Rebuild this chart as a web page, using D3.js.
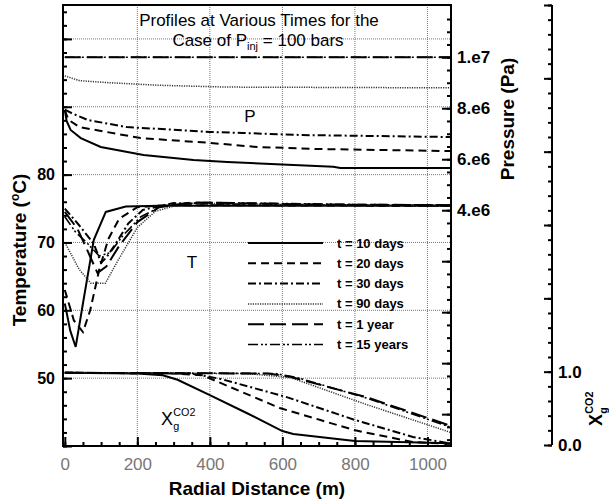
<!DOCTYPE html>
<html>
<head>
<meta charset="utf-8">
<script src="https://cdn.jsdelivr.net/npm/d3@7"></script>
<style>
  body { margin: 0; background: #fff; }
  svg text { font-family: "Liberation Sans", Arial, sans-serif; }
</style>
</head>
<body>
<div id="vis"></div>
<script>
const FRAME_WIDTH = 609;
const FRAME_HEIGHT = 504;
const PLOT = {left: 63, right: 451, top: 5, bottom: 446};

// series names (legend order)
const times = ["t = 10 days", "t = 20 days", "t = 30 days", "t = 90 days", "t = 1 year", "t = 15 years"];

// pressure profiles [distance m, Pa]
const pres10d = [[0, 7.93e6], [5, 7.5e6], [16, 7.15e6], [44, 6.83e6], [99, 6.48e6], [217, 6.17e6], [355, 5.97e6], [448, 5.89e6], [740, 5.70e6], [760, 5.66e6], [1065, 5.66e6]];
const pres20d = [[0, 7.93e6], [10, 7.55e6], [40, 7.26e6], [209, 6.83e6], [400, 6.64e6], [530, 6.48e6], [700, 6.40e6], [1065, 6.32e6]];
const pres30d = [[0, 7.95e6], [20, 7.8e6], [63, 7.54e6], [171, 7.26e6], [310, 7.15e6], [400, 7.07e6], [490, 7.03e6], [650, 6.95e6], [1065, 6.87e6]];
const pres90d = [[0, 9.27e6], [41, 9.08e6], [124, 9.0e6], [261, 8.9e6], [446, 8.83e6], [1065, 8.8e6]];
const pres1y = [[0, 1.0e7], [1065, 1.0e7]];
const pres15y = [[0, 1.0e7], [1065, 1.0e7]];

// temperature profiles [distance m, degC]
const temp10d = [[0, 61], [15, 57], [30, 54.6], [50, 61], [80, 70.4], [113, 74.5], [168, 75.3], [260, 75.4], [1065, 75.4]];
const temp20d = [[0, 63], [25, 58.5], [50, 56.8], [70, 60], [95, 66], [120, 70.5], [150, 73.5], [200, 75.2], [280, 75.5], [1065, 75.4]];
const temp30d = [[0, 75], [40, 72.5], [80, 69.8], [100, 67], [115, 67.8], [140, 69.8], [175, 72.8], [215, 74.8], [300, 75.8], [500, 75.6], [1065, 75.4]];
const temp90d = [[0, 70], [40, 66], [72, 64], [112, 64], [145, 67.2], [200, 72.2], [250, 74.6], [330, 75.8], [600, 75.6], [1065, 75.5]];
const temp1y = [[0, 74.5], [35, 72], [65, 68.5], [90, 65.5], [115, 66.5], [150, 69.5], [200, 73], [260, 75.2], [350, 75.9], [700, 75.6], [1065, 75.5]];
const temp15y = [[0, 73.8], [30, 71.5], [60, 70], [95, 68], [125, 68.5], [160, 71], [210, 73.8], [270, 75.4], [380, 75.9], [800, 75.6], [1065, 75.5]];

// CO2 mass fraction in gas [distance m, -]
const xg10d = [[0, 0.985], [200, 0.975], [270, 0.95], [311, 0.89], [400, 0.68], [500, 0.44], [600, 0.19], [630, 0.15], [800, 0.055], [1065, 0.025]];
const xg20d = [[0, 0.985], [300, 0.975], [380, 0.95], [437, 0.83], [595, 0.50], [705, 0.34], [801, 0.20], [960, 0.04], [1065, 0.015]];
const xg30d = [[0, 0.985], [350, 0.975], [431, 0.90], [614, 0.65], [801, 0.34], [960, 0.11], [1065, 0.02]];
const xg90d = [[0, 0.985], [500, 0.975], [622, 0.92], [833, 0.55], [1065, 0.17]];
const xg1y = [[0, 0.985], [560, 0.975], [622, 0.93], [833, 0.65], [1065, 0.26]];
const xg15y = [[0, 0.985], [580, 0.975], [640, 0.92], [833, 0.64], [1065, 0.24]];

// tick labels
const xTickLabels = [0, 200, 400, 600, 800, 1000];
const tempTickLabels = [50, 60, 70, 80];
const presTickLabels = [4e6, 6e6, 8e6, 1e7];
const xgTickLabels = [0, 1];

const pressure = [pres10d, pres20d, pres30d, pres90d, pres1y, pres15y];
const temperature = [temp10d, temp20d, temp30d, temp90d, temp1y, temp15y];
const fraction = [xg10d, xg20d, xg30d, xg90d, xg1y, xg15y];

// line styles per series
const STYLES = [
  {dash: null, width: 2, color: "#000"},
  {dash: "8,5", width: 2, color: "#000"},
  {dash: "8,3,2,3", width: 2, color: "#000"},
  {dash: "1.2,1.2", width: 1.5, color: "#333"},
  {dash: "16,6", width: 2, color: "#000"},
  {dash: "10,3,2,2,2,3", width: 1.6, color: "#000"}
];

const svg = d3.select("#vis")
  .append("svg")
    .attr("width", FRAME_WIDTH)
    .attr("height", FRAME_HEIGHT);

const x = d3.scaleLinear().domain([-5, 1065]).range([PLOT.left, PLOT.right]);
const yT = d3.scaleLinear().domain([40, 105]).range([PLOT.bottom, PLOT.top]);
const yP = d3.scaleLinear().domain([-5.25e6, 1.205e7]).range([PLOT.bottom, PLOT.top]);
const yX = d3.scaleLinear().domain([0, 6]).range([445, PLOT.top]);

// grid
const grid = svg.append("g")
  .attr("stroke", "#777")
  .attr("stroke-width", 1)
  .attr("stroke-dasharray", "1,1");
grid.selectAll(".vg")
  .data(xTickLabels.filter(d => d > 0))
  .enter().append("line")
    .attr("x1", d => x(d)).attr("x2", d => x(d))
    .attr("y1", PLOT.top).attr("y2", PLOT.bottom);
grid.selectAll(".hg")
  .data(d3.range(50, 101, 10))
  .enter().append("line")
    .attr("x1", PLOT.left).attr("x2", PLOT.right)
    .attr("y1", d => yT(d)).attr("y2", d => yT(d));

// curves
function drawSet(sets, yScale) {
  const line = d3.line().x(d => x(d[0])).y(d => yScale(d[1]));
  sets.forEach(function (data, i) {
    svg.append("path")
      .datum(data)
      .attr("d", line)
      .attr("fill", "none")
      .attr("stroke", STYLES[i].color)
      .attr("stroke-width", STYLES[i].width)
      .attr("stroke-dasharray", STYLES[i].dash);
  });
}
drawSet(pressure, yP);
drawSet(temperature, yT);
drawSet(fraction, yX);

// axes with inward ticks
function axisStyle(g) {
  g.select(".domain").remove();
  g.selectAll(".tick line").attr("stroke", "#000").attr("stroke-width", 2);
}

// bottom
svg.append("g")
  .attr("transform", "translate(0," + PLOT.bottom + ")")
  .call(d3.axisBottom(x).tickValues(d3.range(0, 1065, 50)).tickSize(-4).tickFormat(""))
  .call(axisStyle);
svg.append("g")
  .attr("transform", "translate(0," + PLOT.bottom + ")")
  .call(d3.axisBottom(x).tickValues(xTickLabels).tickSize(-9).tickPadding(12).tickFormat(d3.format("d")))
  .call(axisStyle)
  .call(g => g.selectAll("text")
    .attr("font-size", 17).attr("fill", "#777").attr("font-family", "Liberation Sans, Arial"));

// left temperature
svg.append("g")
  .attr("transform", "translate(" + PLOT.left + ",0)")
  .call(d3.axisLeft(yT).tickValues(d3.range(40, 105, 2)).tickSize(-4).tickFormat(""))
  .call(axisStyle);
svg.append("g")
  .attr("transform", "translate(" + PLOT.left + ",0)")
  .call(d3.axisLeft(yT).tickValues(d3.range(40, 101, 10)).tickSize(-9).tickPadding(8)
    .tickFormat(d => tempTickLabels.includes(d) ? d : ""))
  .call(axisStyle)
  .call(g => g.selectAll("text")
    .attr("font-size", 16).attr("font-weight", "bold").attr("fill", "#000").attr("font-family", "Liberation Sans, Arial"));

// right pressure
svg.append("g")
  .attr("transform", "translate(" + PLOT.right + ",0)")
  .call(d3.axisRight(yP).tickValues(d3.range(-5e6, 1.2e7, 5e5)).tickSize(-4).tickFormat(""))
  .call(axisStyle);
svg.append("g")
  .attr("transform", "translate(" + PLOT.right + ",0)")
  .call(d3.axisRight(yP).tickValues(d3.range(-4e6, 1.2e7, 2e6)).tickSize(-9).tickPadding(6)
    .tickFormat(d => presTickLabels.includes(d) ? (d / Math.pow(10, Math.floor(Math.log10(d)))) + ".e" + Math.floor(Math.log10(d)) : ""))
  .call(axisStyle)
  .call(g => g.selectAll("text")
    .attr("font-size", 17).attr("font-weight", "bold").attr("fill", "#000").attr("font-family", "Liberation Sans, Arial"));

// far right X_g axis
const XAXIS_X = 552;
svg.append("g")
  .attr("transform", "translate(" + XAXIS_X + ",0)")
  .call(d3.axisRight(yX).tickValues(d3.range(0, 6.01, 0.2)).tickSize(-4).tickFormat(""))
  .call(axisStyle);
svg.append("g")
  .attr("transform", "translate(" + XAXIS_X + ",0)")
  .call(d3.axisRight(yX).tickValues(d3.range(0, 7, 1)).tickSize(-8).tickPadding(6)
    .tickFormat(d => xgTickLabels.includes(d) ? d3.format(".1f")(d) : ""))
  .call(axisStyle)
  .call(g => g.selectAll("text")
    .attr("font-size", 17).attr("font-weight", "bold").attr("fill", "#000").attr("font-family", "Liberation Sans, Arial"));
svg.append("line")
  .attr("x1", XAXIS_X).attr("x2", XAXIS_X)
  .attr("y1", yX(6)).attr("y2", yX(0))
  .attr("stroke", "#000").attr("stroke-width", 2);

// frame
svg.append("rect")
  .attr("x", PLOT.left).attr("y", PLOT.top)
  .attr("width", PLOT.right - PLOT.left).attr("height", PLOT.bottom - PLOT.top)
  .attr("fill", "none").attr("stroke", "#000").attr("stroke-width", 2);

// titles
svg.append("text")
  .attr("x", 259).attr("y", 26)
  .attr("text-anchor", "middle").attr("font-size", 17)
  .text("Profiles at Various Times for the");
const t2 = svg.append("text")
  .attr("x", 258).attr("y", 46)
  .attr("text-anchor", "middle").attr("font-size", 17);
t2.append("tspan").text("Case of P");
t2.append("tspan").attr("font-size", 11).attr("dy", 4).text("inj");
t2.append("tspan").attr("dy", -4).text(" = 100 bars");

svg.append("text")
  .attr("x", 257).attr("y", 495)
  .attr("text-anchor", "middle").attr("font-size", 19).attr("font-weight", "bold")
  .text("Radial Distance (m)");

const tl = svg.append("text")
  .attr("transform", "translate(26,250) rotate(-90)")
  .attr("text-anchor", "middle").attr("font-size", 19).attr("font-weight", "bold");
tl.append("tspan").text("Temperature (");
tl.append("tspan").attr("font-size", 12).attr("dy", -7).text("o");
tl.append("tspan").attr("dy", 7).text("C)");

svg.append("text")
  .attr("transform", "translate(514,119) rotate(-90)")
  .attr("text-anchor", "middle").attr("font-size", 19).attr("font-weight", "bold")
  .text("Pressure (Pa)");

function xgLabel(g, size, weight) {
  g.append("text").attr("font-size", size).attr("font-weight", weight).text("X");
  g.append("text").attr("x", size * 0.68).attr("y", -size * 0.5)
    .attr("font-size", size * 0.6).attr("font-weight", weight).text("CO2");
  g.append("text").attr("x", size * 0.68).attr("y", size * 0.3)
    .attr("font-size", size * 0.6).attr("font-weight", weight).text("g");
}
xgLabel(svg.append("g").attr("transform", "translate(602,426) rotate(-90)"), 18, "bold");
xgLabel(svg.append("g").attr("transform", "translate(161,425)"), 18, "normal");

svg.append("text").attr("x", 250).attr("y", 122).attr("text-anchor", "middle").attr("font-size", 17).text("P");
svg.append("text").attr("x", 192).attr("y", 268).attr("text-anchor", "middle").attr("font-size", 17).text("T");

// legend
const legend = svg.append("g");
times.forEach(function (name, i) {
  const ly = 243 + i * 20.3;
  legend.append("line")
    .attr("x1", 248).attr("x2", 323).attr("y1", ly).attr("y2", ly)
    .attr("stroke", STYLES[i].color)
    .attr("stroke-width", STYLES[i].width)
    .attr("stroke-dasharray", STYLES[i].dash);
  legend.append("text")
    .attr("x", 337).attr("y", ly + 4.5)
    .attr("font-size", 13).attr("font-weight", "bold")
    .text(name);
});
</script>
</body>
</html>
